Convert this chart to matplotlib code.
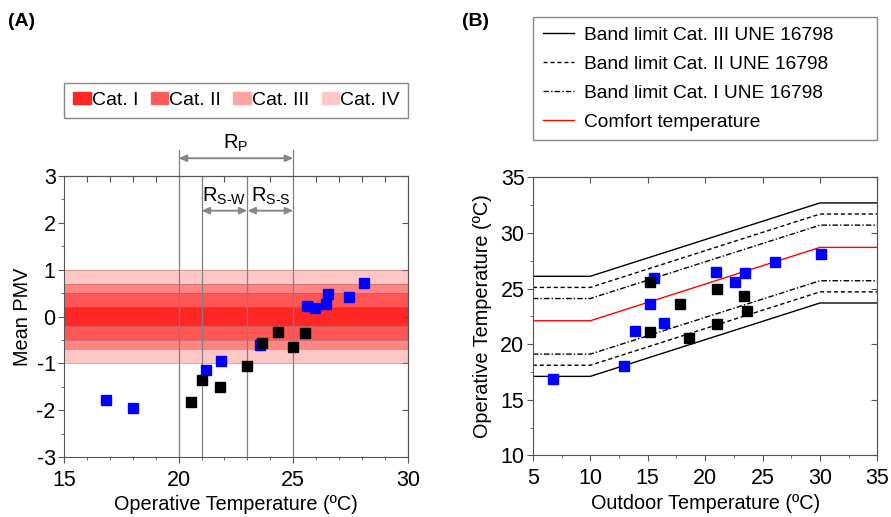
import matplotlib
matplotlib.use("Agg")
import matplotlib.pyplot as plt
import matplotlib.patches as mpatches
import numpy as np

plt.rcParams['font.family'] = ['Liberation Sans', 'DejaVu Sans']
plt.rcParams['mathtext.fontset'] = 'custom'
plt.rcParams['mathtext.rm'] = 'Liberation Sans'
plt.rcParams['axes.unicode_minus'] = False

#%% data
# (A) mean PMV vs operative temperature
op_blue = [16.83, 18.0, 21.18, 21.85, 23.55, 25.6, 25.97, 26.43, 26.51, 27.41, 28.08]
pmv_blue = [-1.78, -1.95, -1.14, -0.94, -0.60, 0.22, 0.19, 0.26, 0.49, 0.42, 0.71]
op_black = [20.52, 21.02, 21.8, 22.97, 23.63, 24.33, 25.0, 25.51]
pmv_black = [-1.82, -1.35, -1.50, -1.06, -0.57, -0.32, -0.64, -0.36]

cat_names = ['Cat. I', 'Cat. II', 'Cat. III', 'Cat. IV']
cat_limits = [0.2, 0.5, 0.7, 1.0]
range_lines = [20, 21, 23, 25]

# (B) adaptive model
out_blue = [6.74, 12.95, 13.93, 16.43, 15.21, 15.56, 20.95, 22.6, 23.5, 26.06, 30.12]
top_blue = [16.83, 18.03, 21.18, 21.87, 23.58, 25.97, 26.48, 25.58, 26.39, 27.38, 28.08]
out_black = [15.21, 18.58, 15.21, 17.82, 21.0, 21.0, 23.39, 23.68]
top_black = [21.06, 20.58, 25.56, 23.63, 24.98, 21.83, 24.35, 22.98]

t_out = [5, 10, 30, 35]
t_comf = [22.1, 22.1, 28.7, 28.7]
band_names = ['Band limit Cat. III UNE 16798', 'Band limit Cat. II UNE 16798',
              'Band limit Cat. I UNE 16798']
band_up = [4, 3, 2]
band_down = [-5, -4, -3]

#%% figure
fig = plt.figure(figsize=(8.91, 5.17), dpi=100)
axA = fig.add_axes([0.0718, 0.116, 0.386, 0.5435])
axB = fig.add_axes([0.598, 0.1193, 0.3868, 0.5377])

spine_c = '#555555'
band_cols = ['#FF2626', '#FF5555', '#FF8484', '#FFC6C6']
legend_cols = ['#FF2626', '#FF5C5C', '#FFA3A3', '#FFC8C8']

# ---- (A)
for lim, col in zip(cat_limits[::-1], band_cols[::-1]):
    axA.axhspan(-lim, lim, color=col, lw=0, zorder=0)
for lim in cat_limits:
    for s in (-1, 1):
        axA.axhline(s*lim, color='#b06060', lw=0.6, alpha=0.6, zorder=1)

for x in range_lines:
    top = 3.56 if x in (20, 25) else 3
    axA.plot([x, x], [-3, top], color='#808080', lw=0.9, clip_on=False, zorder=2)

axA.plot(op_blue, pmv_blue, 's', color='#0000FF', ms=6.5, zorder=3)
axA.plot(op_black, pmv_black, 's', color='black', ms=6.5, zorder=4)

arr = dict(arrowstyle='<|-|>,head_length=0.45,head_width=0.2', color='#888888',
           lw=1.4, shrinkA=0, shrinkB=0)
axA.annotate('', xy=(20, 3.38), xytext=(25, 3.38), arrowprops=arr, annotation_clip=False)
axA.annotate('', xy=(21, 2.26), xytext=(23, 2.26), arrowprops=arr)
axA.annotate('', xy=(23, 2.26), xytext=(25, 2.26), arrowprops=arr)
axA.text(22.5, 3.46, r'R$_{\mathregular{P}}$', ha='center', va='bottom', fontsize=14.5)
axA.text(22.0, 2.34, r'R$_{\mathregular{S\text{-}W}}$', ha='center', va='bottom', fontsize=14.5)
axA.text(24.0, 2.34, r'R$_{\mathregular{S\text{-}S}}$', ha='center', va='bottom', fontsize=14.5)

axA.set_xlim(15, 30)
axA.set_ylim(-3, 3)
axA.set_xticks([15, 20, 25, 30])
axA.set_xticks(np.arange(15, 31, 1), minor=True)
axA.set_yticks(np.arange(-3, 4, 1))
axA.set_yticks(np.arange(-3, 3.1, 0.5), minor=True)
axA.set_xlabel('Operative Temperature (ºC)', fontsize=14.3, labelpad=3.5)
axA.set_ylabel('Mean PMV', fontsize=14.3, labelpad=3)

handles = [mpatches.Patch(color=c) for c in legend_cols]
fig.legend(handles, cat_names, loc='lower left', ncol=4, mode='expand',
           bbox_to_anchor=(0.0722, 0.7723, 0.386, 0.0665), borderaxespad=0,
           fontsize=14, handlelength=0.9, handleheight=0.55, handletextpad=0.05,
           fancybox=False, edgecolor='#888888', framealpha=1, borderpad=0.45)

# ---- (B)
styles = ['-', (0, (3, 2)), (0, (4, 1.5, 1, 1.5))]
for name, up, dn, ls in zip(band_names, band_up, band_down, styles):
    axB.plot(t_out, np.array(t_comf) + up, color='black', lw=1, ls=ls, label=name)
    axB.plot(t_out, np.array(t_comf) + dn, color='black', lw=1, ls=ls)
axB.plot(t_out, t_comf, color='red', lw=1, label='Comfort temperature')

axB.plot(out_blue, top_blue, 's', color='#0000FF', ms=6.5, zorder=3)
axB.plot(out_black, top_black, 's', color='black', ms=6.5, zorder=4)

axB.set_xlim(5, 35)
axB.set_ylim(10, 35)
axB.set_xticks(np.arange(5, 36, 5))
axB.set_xticks(np.arange(5, 35.1, 2.5), minor=True)
axB.set_yticks(np.arange(10, 36, 5))
axB.set_yticks(np.arange(10, 35.1, 2.5), minor=True)
axB.set_xlabel('Outdoor Temperature (ºC)', fontsize=14.3, labelpad=3.5)
axB.set_ylabel('Operative Temperature (ºC)', fontsize=14.3, labelpad=6)

hB, lB = axB.get_legend_handles_labels()
fig.legend(hB, lB, loc='upper left', ncol=1, mode='expand',
           bbox_to_anchor=(0.5986, 0.729, 0.386, 0.238), borderaxespad=0,
           fontsize=13.8, handlelength=1.6, handletextpad=0.55, labelspacing=0.6,
           fancybox=False, edgecolor='#888888', framealpha=1, borderpad=0.5)

# ---- axes styling
for ax, top_minor in ((axA, True), (axB, False)):
    for sp in ax.spines.values():
        sp.set_color(spine_c)
    ax.tick_params(which='both', direction='out', colors=spine_c, labelcolor='black',
                   labelsize=15.5, top=False, right=False)
    ax.tick_params(axis='x', which='both', pad=5)
    ax.tick_params(axis='y', which='both', pad=2)
    ax.tick_params(which='major', length=4)
    ax.tick_params(which='minor', length=2.5)
    sx = ax.secondary_xaxis('top')
    sx.set_xticks(ax.get_xticks(minor=top_minor) if top_minor else ax.get_xticks())
    sx.tick_params(direction='in', length=4, colors=spine_c, labeltop=False)
    sx.spines['top'].set_color(spine_c)
    sy = ax.secondary_yaxis('right')
    sy.set_yticks(ax.get_yticks())
    sy.tick_params(direction='in', length=4, colors=spine_c, labelright=False)
    sy.spines['right'].set_color(spine_c)

fig.text(0.009, 0.959, '(A)', fontsize=14, fontweight='bold', va='center')
fig.text(0.518, 0.959, '(B)', fontsize=14, fontweight='bold', va='center')

fig.savefig('out.png', dpi=100)
